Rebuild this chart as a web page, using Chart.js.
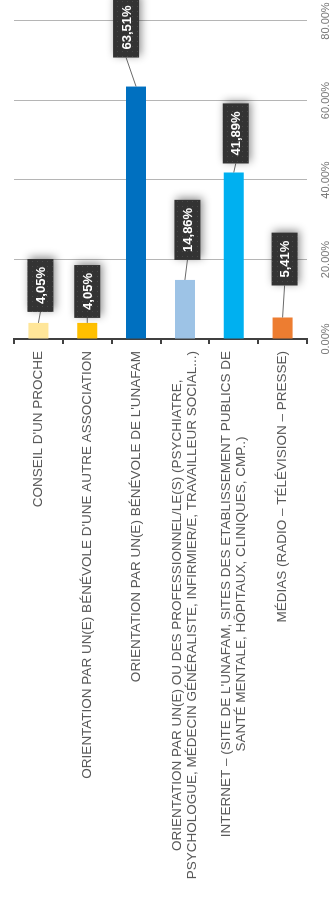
<!DOCTYPE html>
<html><head><meta charset="utf-8">
<script src="https://cdn.jsdelivr.net/npm/chart.js@4.4.1/dist/chart.umd.min.js"></script>
<style>
html,body{margin:0;padding:0;background:#fff;overflow:hidden;width:333px;height:899px;}
#wrap{position:absolute;left:0;top:0;width:899px;height:333px;transform-origin:0 0;transform:translateY(899px) rotate(-90deg);}
canvas{display:block;}
</style></head><body>
<div id="wrap"><canvas id="c" width="899" height="333"></canvas></div>
<script>
// ---- data ----
const categories = [
  ["CONSEIL D'UN PROCHE"],
  ["ORIENTATION PAR UN(E) BÉNÉVOLE D'UNE AUTRE ASSOCIATION"],
  ["ORIENTATION PAR UN(E) BÉNÉVOLE DE L'UNAFAM"],
  ["ORIENTATION PAR UN(E) OU DES PROFESSIONNEL/LE(S) (PSYCHIATRE,", "PSYCHOLOGUE, MÉDECIN GÉNÉRALISTE, INFIRMIER/E, TRAVAILLEUR SOCIAL...)"],
  ["INTERNET – (SITE DE L'UNAFAM, SITES DES ETABLISSEMENT PUBLICS DE", "SANTÉ MENTALE, HÔPITAUX, CLINIQUES, CMP..)"],
  ["MÉDIAS (RADIO – TÉLÉVISION – PRESSE)"]
];
const values = [4.05, 4.05, 63.51, 14.86, 41.89, 5.41];
const valueLabels = ["4,05%", "4,05%", "63,51%", "14,86%", "41,89%", "5,41%"];
const barColors = ["#FFE699", "#FFC000", "#0070C0", "#9DC3E6", "#00B0F0", "#ED7D31"];
const tickValues = [0, 20, 40, 60, 80];
const tickLabels = ["0.00%", "20.00%", "40.00%", "60.00%", "80.00%"];

// ---- label layout (px offsets from bar end) ----
const labelAlong = [11, 5, 29, 20, 9, 32];
const labelCross = [2, 0, -10, 2.5, 2, 2];

const FONT = "'Liberation Sans', Arial, Helvetica, sans-serif";

// dotted dark pattern for label boxes
const pc = document.createElement('canvas'); pc.width = 5; pc.height = 5;
const pctx = pc.getContext('2d');
pctx.fillStyle = '#333333'; pctx.fillRect(0,0,5,5);
pctx.fillStyle = '#4a4a4a'; pctx.fillRect(2,2,1,1);

const catLabelPlugin = {
  id: 'catLabels',
  afterDraw(chart) {
    const ctx = chart.ctx, ys = chart.scales.y;
    const right = chart.chartArea.left - 5 - 7;
    ctx.save();
    ctx.font = '13.5px ' + FONT;
    ctx.fillStyle = '#595959';
    ctx.textAlign = 'center';
    ctx.textBaseline = 'middle';
    const lh = 15;
    categories.forEach((lines, i) => {
      const yc = ys.getPixelForTick(i);
      const w = Math.max(...lines.map(l => ctx.measureText(l).width));
      const cx = right - w / 2;
      lines.forEach((l, j) => ctx.fillText(l, cx, yc + (j - (lines.length - 1) / 2) * lh));
    });
    ctx.restore();
  }
};

const dataLabelPlugin = {
  id: 'dataLabels',
  afterDatasetsDraw(chart) {
    const ctx = chart.ctx;
    const meta = chart.getDatasetMeta(0);
    const pattern = ctx.createPattern(pc, 'repeat');
    ctx.save();
    ctx.font = 'bold 13px ' + FONT;
    meta.data.forEach((bar, i) => {
      const txt = valueLabels[i];
      const tw = ctx.measureText(txt).width;
      const bw = tw + 16, bh = 26;
      const x0 = bar.x + labelAlong[i];
      const yc = bar.y + labelCross[i];
      ctx.strokeStyle = '#6a6a6a'; ctx.lineWidth = 1;
      ctx.beginPath(); ctx.moveTo(bar.x, bar.y); ctx.lineTo(x0, yc); ctx.stroke();
      ctx.save();
      ctx.shadowColor = 'rgba(0,0,0,0.45)'; ctx.shadowBlur = 8;
      ctx.shadowOffsetX = 2; ctx.shadowOffsetY = 2;
      ctx.fillStyle = pattern;
      ctx.fillRect(x0, yc - bh / 2, bw, bh);
      ctx.restore();
      ctx.fillStyle = '#ffffff';
      ctx.textAlign = 'center'; ctx.textBaseline = 'middle';
      ctx.fillText(txt, x0 + bw / 2, yc + 1);
    });
    ctx.restore();
  }
};

new Chart(document.getElementById('c'), {
  type: 'bar',
  data: {
    labels: categories,
    datasets: [{
      data: values,
      backgroundColor: barColors,
      borderWidth: 0,
      barPercentage: 0.41,
      categoryPercentage: 1
    }]
  },
  options: {
    indexAxis: 'y',
    responsive: false,
    animation: false,
    layout: { padding: { left: 0, top: 14, right: 21, bottom: 0 } },
    plugins: { legend: { display: false }, tooltip: { enabled: false } },
    scales: {
      y: {
        position: 'left',
        ticks: { display: false },
        grid: { display: true, drawOnChartArea: false, drawTicks: true, tickLength: 5, color: '#404040', lineWidth: 2, offset: true },
        border: { display: true, color: '#404040', width: 2 },
        afterFit(s) { s.width = 560; s.paddingTop = 0; s.paddingBottom = 0; }
      },
      x: {
        min: 0, max: 80,
        ticks: {
          stepSize: 20, padding: 12, color: '#777777',
          font: { family: FONT, size: 11 },
          callback: (v) => { const k = tickValues.indexOf(v); return k >= 0 ? tickLabels[k] : ''; }
        },
        grid: { color: '#b5b5b5', lineWidth: 1, drawTicks: false },
        border: { display: false },
        afterFit(s) { s.height = 26; s.paddingLeft = 0; s.paddingRight = 0; }
      }
    }
  },
  plugins: [catLabelPlugin, dataLabelPlugin]
});
</script>
</body></html>
